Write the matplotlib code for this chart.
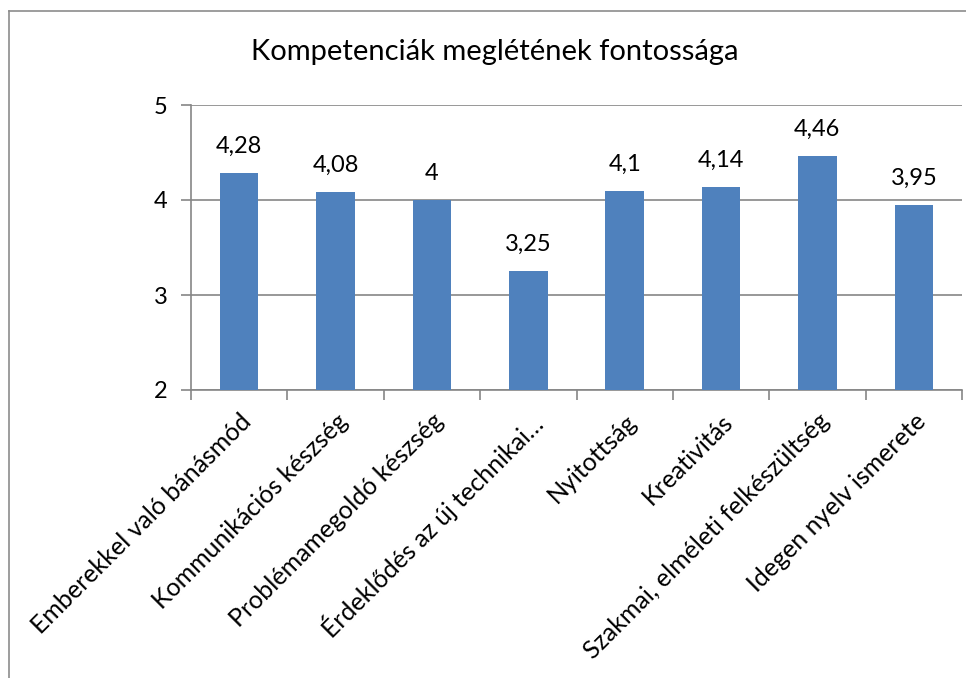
import matplotlib
matplotlib.use("Agg")
import matplotlib.pyplot as plt
import numpy as np

categories = ["Emberekkel való bánásmód", "Kommunikációs készség",
              "Problémamegoldó készség", "Érdeklődés az új technikai…",
              "Nyitottság", "Kreativitás", "Szakmai, elméleti felkészültség",
              "Idegen nyelv ismerete"]
values = [4.28, 4.08, 4.0, 3.25, 4.1, 4.14, 4.46, 3.95]
value_labels = ["4,28", "4,08", "4", "3,25", "4,1", "4,14", "4,46", "3,95"]
yticks = [2, 3, 4, 5]

plt.rcParams["font.family"] = ["Lato", "DejaVu Sans"]
W, H = 966, 678
fig = plt.figure(figsize=(W / 100, H / 100), dpi=100)

# outer chart-area border (left and top visible)
fig.add_artist(plt.Line2D([9 / W, 9 / W], [0, 1 - 11 / H], color="#8c8c8c", lw=1.2))
fig.add_artist(plt.Line2D([9 / W, 1], [1 - 11 / H, 1 - 11 / H], color="#8c8c8c", lw=1.2))

ax = fig.add_axes([191 / W, 1 - 390 / H, (962 - 191) / W, (390 - 105) / H])
x = np.arange(len(categories))
ax.bar(x, [v - 2 for v in values], bottom=2, width=0.4, color="#4F81BD", zorder=3)
for xi, v, lab in zip(x, values, value_labels):
    ax.text(xi, v + 0.17, lab, ha="center", va="bottom", fontsize=17)

ax.set_xlim(-0.5, len(categories) - 0.5)
ax.set_ylim(2, 5)
ax.set_yticks(yticks)
ax.set_yticklabels([str(t) for t in yticks], fontsize=17)
ax.yaxis.grid(True, color="#868686", lw=1.2, zorder=0)
ax.set_xticks(np.arange(len(categories) + 1) - 0.5, minor=False)
ax.set_xticklabels([])
ax.set_xticks(x, minor=True)
ax.set_xticklabels(categories, minor=True, rotation=45, ha="right",
                   rotation_mode="anchor", fontsize=18)
ax.tick_params(axis="x", which="minor", length=0, pad=14)
ax.tick_params(axis="x", which="major", length=7, color="#868686", width=1.2)
ax.tick_params(axis="y", length=7, color="#868686", width=1.2, pad=10)
for s in ["top", "right"]:
    ax.spines[s].set_visible(False)
for s in ["left", "bottom"]:
    ax.spines[s].set_color("#868686")
    ax.spines[s].set_linewidth(1.2)

fig.text(495 / W, 1 - 52 / H, "Kompetenciák meglétének fontossága",
         ha="center", va="center", fontsize=21)

fig.savefig("out.png", dpi=100)
